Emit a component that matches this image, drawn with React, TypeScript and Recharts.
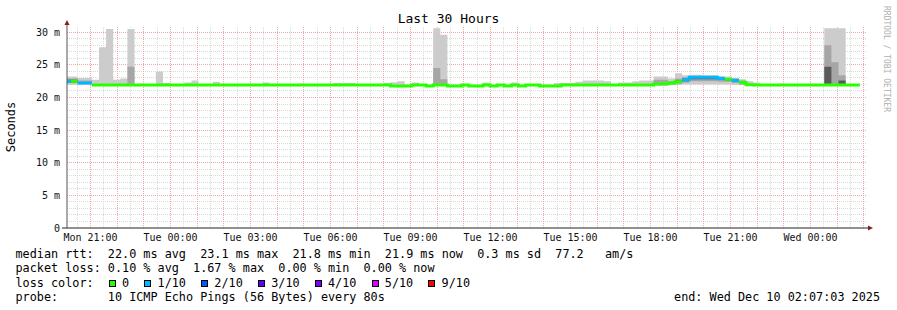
import React from "react";
import { ComposedChart, Area, Line, XAxis, YAxis, CartesianGrid } from "recharts";

// time in hours since Mon 00:00, one bin = 960 s
const T_START = 20.1175;
const T_END = 50.1175;
const BIN_START = 19.9833;
const BIN_HOURS = 16 / 60;

const X_TICKS = [21, 24, 27, 30, 33, 36, 39, 42, 45, 48];
const Y_TICKS = [0, 5, 10, 15, 20, 25, 30];
const DAYS = ["Mon", "Tue", "Wed"];

// median rtt (ms) per bin
const median = [
  22.5, 22.5, 22.2, 22.2, 21.9, 21.9, 21.9, 21.9, 21.9, 21.9,
  21.9, 21.9, 21.9, 21.9, 21.9, 21.9, 21.9, 21.9, 21.9, 21.9,
  21.9, 21.9, 21.9, 21.9, 21.9, 21.9, 21.9, 21.9, 21.9, 21.9,
  21.9, 21.9, 21.9, 21.9, 21.9, 21.9, 21.9, 21.9, 21.9, 21.9,
  21.9, 21.9, 21.9, 21.9, 21.9, 21.9, 21.75, 21.75, 21.75, 21.9,
  21.9, 21.75, 21.9, 21.9, 21.75, 21.75, 21.9, 21.75, 21.75, 21.9,
  21.75, 21.9, 21.75, 21.9, 21.75, 21.9, 21.9, 21.75, 21.75, 21.75,
  21.9, 21.9, 21.9, 21.9, 21.9, 21.9, 21.9, 21.9, 21.9, 21.9,
  21.9, 21.9, 21.9, 22.05, 22.05, 22.2, 22.4, 22.7, 23.1, 23.1,
  23.1, 23.1, 22.9, 22.8, 22.6, 22.3, 21.95, 21.9, 21.9, 21.9,
  21.9, 21.9, 21.9, 21.9, 21.9, 21.9, 21.9, 21.9, 21.9, 21.9,
  21.9, 21.9,
];

// bins with 1/10 packet loss
const lossBins = [0, 2, 3, 87, 88, 89, 90, 91, 92, 94];

// outer smoke (light)
const smokeBins = [0, 1, 2, 3, 4, 5, 6, 7, 8, 9, 13, 14, 17, 18, 21, 28, 38, 39, 40, 45, 46, 47, 49, 52, 53, 59, 63,
  69, 70, 71, 72, 73, 74, 75, 76, 78, 79, 80, 81, 82, 83, 84, 85, 86, 87, 88, 89, 90, 91, 92, 93, 94, 95, 96, 97,
  107, 108, 109];
const smokeTop = [23.2, 23.2, 23.0, 23.0, 22.7, 27.7, 30.5, 22.7, 22.9, 30.5, 24.0, 22.2, 22.3, 22.6, 22.4, 22.3, 22.2, 22.2, 22.2, 22.2, 22.35, 22.5, 22.3, 30.6, 29.6, 22.3, 22.3,
  22.2, 22.2, 22.2, 22.4, 22.6, 22.6, 22.6, 22.5, 22.3, 22.3, 22.5, 22.6, 22.6, 23.2, 23.2, 22.9, 23.7, 23.4, 23.5, 23.5, 23.4, 23.4, 23.3, 23.2, 23.0, 22.8, 22.5, 22.3,
  30.6, 30.6, 30.6];
const smokeBottom = [21.9, 21.9, 21.9, 21.9, 21.9, 21.9, 21.9, 21.9, 21.9, 21.9, 21.9, 21.9, 21.9, 21.9, 21.9, 21.9, 21.9, 21.9, 21.9, 21.9, 21.7, 21.7, 21.9, 21.9, 21.9, 21.9, 21.9,
  21.8, 21.9, 21.9, 21.9, 21.9, 21.9, 21.9, 21.9, 21.9, 21.9, 21.9, 21.9, 21.9, 21.8, 21.8, 21.9, 21.9, 22.0, 22.0, 22.0, 22.0, 22.0, 22.0, 22.0, 21.9, 21.9, 21.8, 21.8,
  21.9, 21.9, 21.9];

// middle smoke
const midBins = [0, 1, 2, 3, 9, 52, 53, 83, 84, 85, 86, 87, 88, 89, 90, 91, 92, 93, 94, 95, 107, 108, 109];
const midTop = [22.9, 22.9, 22.6, 22.6, 24.7, 24.5, 22.8, 22.7, 22.7, 22.5, 22.9, 23.1, 23.3, 23.3, 23.3, 23.3, 23.1, 23.0, 22.9, 22.6, 28.0, 25.4, 23.4];
const midBottom = [22.2, 22.2, 22.1, 22.1, 21.9, 21.9, 21.9, 22.0, 22.0, 22.0, 22.1, 22.3, 22.5, 22.5, 22.5, 22.5, 22.4, 22.4, 22.2, 22.0, 21.9, 21.9, 21.9];

// inner smoke (dark)
const darkBins = [0, 1, 86, 87, 88, 89, 90, 91, 92, 93, 94, 107, 109];
const darkTop = [22.7, 22.7, 22.6, 22.9, 23.1, 23.1, 23.1, 23.1, 23.0, 22.9, 22.8, 24.7, 22.6];
const darkBottom = [22.3, 22.3, 22.2, 22.5, 22.8, 22.8, 22.8, 22.8, 22.7, 22.6, 22.4, 21.9, 21.9];

const LOSS_LEGEND = [
  { label: "0", color: "#26ff00" },
  { label: "1/10", color: "#00b8ff" },
  { label: "2/10", color: "#0059ff" },
  { label: "3/10", color: "#5e00ff" },
  { label: "4/10", color: "#7e00ff" },
  { label: "5/10", color: "#dd00ff" },
  { label: "9/10", color: "#ff0000" },
];

const MONO = "'DejaVu Sans Mono', monospace";

const pick = (bins: number[], lo: number[], hi: number[], k: number) => {
  const i = bins.indexOf(k);
  return i < 0 ? null : [lo[i], hi[i]];
};

const rows: any[] = [];
median.forEach((m, k) => {
  const t0 = BIN_START + k * BIN_HOURS;
  const lossy = lossBins.includes(k);
  const row = {
    light: pick(smokeBins, smokeBottom, smokeTop, k),
    mid: pick(midBins, midBottom, midTop, k),
    dark: pick(darkBins, darkBottom, darkTop, k),
    green: lossy ? null : m,
    blue: lossy ? m : null,
  };
  rows.push({ t: t0, ...row }, { t: t0 + BIN_HOURS, ...row });
});

// plot box in pixels, for the grid lines (snapped to half pixels so dots stay crisp)
const PL = 67, PW = 800, PT = 27, PB = 228, Y_MAX = 30.8;
const crisp = (p: number) => Math.floor(p) + 0.5;
const gx = (h: number) => crisp(PL + ((h - T_START) * PW) / (T_END - T_START));
const gy = (v: number) => crisp(PB - (v * (PB - PT)) / Y_MAX);
const hours = Array.from({ length: 30 }, (_, i) => 21 + i);
const halfHours = hours.map((h) => h - 0.5);
const msMinor = Array.from({ length: 30 }, (_, i) => i + 1).filter((v) => v % 5 !== 0);
const msMajor = [5, 10, 15, 20, 25, 30];

const fmtX = (h: number) => `${DAYS[Math.floor(h / 24)]} ${String(h % 24).padStart(2, "0")}:00`;
const fmtY = (v: number) => (v === 0 ? "0" : `${v} m`);

export default function App() {
  return (
    <div style={{ position: "absolute", left: 0, top: 0, width: 897, height: 310, background: "#fff", fontFamily: MONO, color: "#000" }}>
      <div style={{ position: "absolute", left: 0, width: 897, top: 11, textAlign: "center", fontSize: 13, lineHeight: "16px" }}>
        Last 30 Hours
      </div>
      <div style={{ position: "absolute", left: 11, top: 127, fontSize: 12, transform: "translate(-50%, -50%) rotate(-90deg)", whiteSpace: "nowrap" }}>
        Seconds
      </div>
      <div style={{ position: "absolute", left: 886, top: 59, fontSize: 8, color: "#b0b0b0", transform: "translate(-50%, -50%) rotate(90deg)", whiteSpace: "nowrap" }}>
        RRDTOOL / TOBI OETIKER
      </div>

      <div style={{ position: "absolute", left: 0, top: 0 }}>
        <ComposedChart width={897} height={250} data={rows} margin={{ top: 27, right: 30, bottom: 0, left: 0 }}>
          <CartesianGrid stroke="#d9d9d9" strokeDasharray="1 1" verticalPoints={halfHours.map(gx)} horizontalPoints={msMinor.map(gy)} />
          <CartesianGrid stroke="#f3a6a6" strokeDasharray="1 1" verticalPoints={hours.map(gx)} horizontalPoints={msMajor.map(gy)} />
          <XAxis
            type="number"
            dataKey="t"
            domain={[T_START, T_END]}
            allowDataOverflow
            ticks={X_TICKS}
            tickFormatter={fmtX}
            tickLine={false}
            tickSize={4}
            tickMargin={2}
            height={22}
            axisLine={{ stroke: "#222" }}
            tick={{ fontFamily: MONO, fontSize: 10, fill: "#111" }}
          />
          <YAxis
            type="number"
            domain={[0, Y_MAX]}
            allowDataOverflow
            ticks={Y_TICKS}
            tickFormatter={fmtY}
            tickLine={false}
            tickSize={4}
            tickMargin={3}
            width={67}
            axisLine={{ stroke: "#555" }}
            tick={{ fontFamily: MONO, fontSize: 10, fill: "#111" }}
          />
          <Area dataKey="light" type="linear" fill="#cccccc" fillOpacity={1} stroke="none" isAnimationActive={false} />
          <Area dataKey="mid" type="linear" fill="#a6a6a6" fillOpacity={1} stroke="none" isAnimationActive={false} />
          <Area dataKey="dark" type="linear" fill="#5a5a5a" fillOpacity={1} stroke="none" isAnimationActive={false} />
          <Line dataKey="green" type="linear" stroke="#26ff00" strokeWidth={3} dot={false} isAnimationActive={false} />
          <Line dataKey="blue" type="linear" stroke="#00b8ff" strokeWidth={3} dot={false} isAnimationActive={false} />
        </ComposedChart>
      </div>

      <svg width={897} height={310} style={{ position: "absolute", left: 0, top: 0, pointerEvents: "none" }}>
        <line x1={67} y1={22} x2={67} y2={27} stroke="#555" />
        <line x1={62} y1={228} x2={67} y2={228} stroke="#222" />
        <line x1={867} y1={228} x2={869} y2={228} stroke="#222" />
        <polygon points="64.5,25 69.5,25 67,20" fill="#8b1a1a" />
        <polygon points="868,225.5 868,230.5 873,228" fill="#8b1a1a" />
      </svg>

      <div style={{ position: "absolute", left: 15.5, top: 247, fontSize: 11.8, lineHeight: "14.3px", whiteSpace: "pre" }}>
        <div>median rtt:  22.0 ms avg  23.1 ms max  21.8 ms min  21.9 ms now  0.3 ms sd  77.2   am/s</div>
        <div>packet loss: 0.10 % avg  1.67 % max  0.00 % min  0.00 % now</div>
        <div>
          {"loss color:  "}
          {LOSS_LEGEND.map((l, i) => (
            <React.Fragment key={l.label}>
              <span style={{ display: "inline-block", width: "1ch", height: 7, position: "relative", verticalAlign: "baseline" }}>
                <span style={{ position: "absolute", left: 1, top: 0, width: 5, height: 5, border: "1px solid #000", background: l.color }} />
              </span>
              {` ${l.label}${i < LOSS_LEGEND.length - 1 ? "  " : ""}`}
            </React.Fragment>
          ))}
        </div>
        <div>probe:       10 ICMP Echo Pings (56 Bytes) every 80s</div>
      </div>
      <div style={{ position: "absolute", right: 17, top: 289.9, fontSize: 11.8, lineHeight: "14.3px", whiteSpace: "pre" }}>
        end: Wed Dec 10 02:07:03 2025
      </div>
    </div>
  );
}
